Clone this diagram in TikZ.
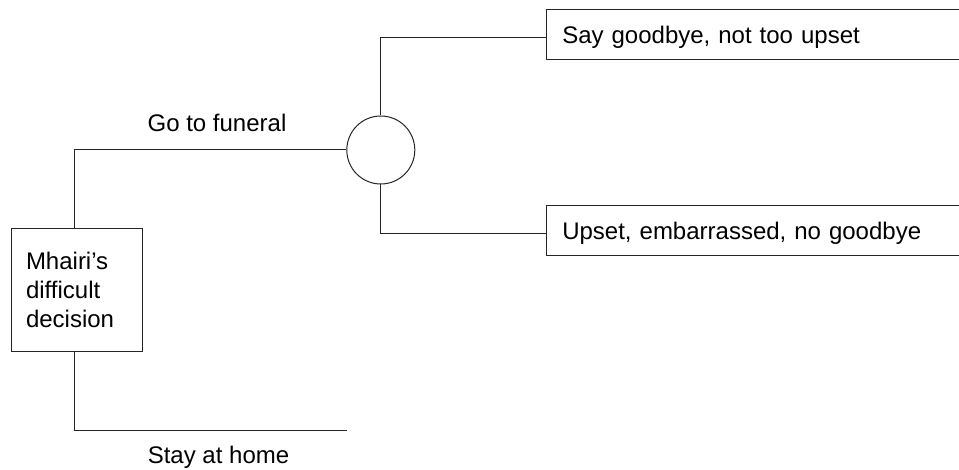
\documentclass[tikz,border=0pt]{standalone}
\usepackage{fontspec}
\setmainfont{Liberation Sans}[Ligatures=CommonOff]
\begin{document}
\begin{tikzpicture}[x=1pt,y=-1pt,
  every node/.style={font=\fontsize{24}{28.8}\selectfont},
  conn/.style={draw=black!85, line width=1pt},
  decbox/.style={draw=black!85, line width=1pt, fill=white, align=left,
    text width=102pt, inner xsep=14.7pt, inner ysep=0pt, minimum height=122.7pt},
  chance/.style={circle, draw=black!85, line width=1pt, fill=white, minimum size=68pt, inner sep=0pt},
  outbox/.style={draw=black!85, line width=1pt, fill=white, align=left, anchor=west,
    text width=400pt, inner xsep=15.8pt, inner ysep=0pt, minimum height=50pt,
    text height=17.2pt, text depth=0pt},
  lbl/.style={inner sep=0pt, anchor=base}
]
\useasboundingbox (0,0) rectangle (959,470);
\clip (0,0) rectangle (959,470);

\node[decbox] (dec) at (77,289.7) {Mhairi’s\\difficult\\decision};
\node[chance] (ch) at (380.8,150) {};
\node[outbox] (top) at (546,35) {Say goodbye, not too upset};
\node[outbox] (bot) at (546,231) {Upset, embarrassed, no goodbye};
\coordinate (home) at (346.7,430);

\draw[conn] ([xshift=-2.3pt]dec.north) |- (ch.west);
\draw[conn] (ch.north) |- ([yshift=-2.7pt]top.west);
\draw[conn] (ch.south) |- ([yshift=-2.3pt]bot.west);
\draw[conn] ([xshift=-2.3pt]dec.south) |- (home);

\node[lbl] (go) at (217,131.7) {Go to funeral};
\node[lbl] (stay) at (218.5,463) {Stay at home};
\end{tikzpicture}
\end{document}
